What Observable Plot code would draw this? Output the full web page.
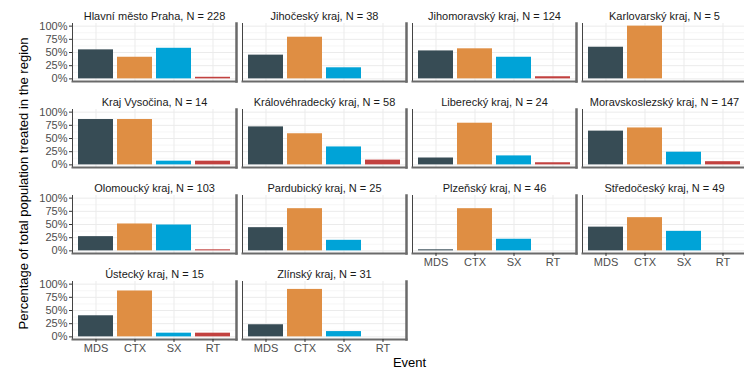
<!DOCTYPE html>
<html>
<head>
<meta charset="utf-8">
<script src="https://cdn.jsdelivr.net/npm/d3@7"></script>
<script src="https://cdn.jsdelivr.net/npm/@observablehq/plot@0.6"></script>
<style>
  body { margin: 0; background: #fff; }
  svg { display: block; }
</style>
</head>
<body>
<div id="chart"></div>
<script>
// Treated population share by region and event type
const regions = [
  "Hlavní město Praha", "Jihočeský kraj", "Jihomoravský kraj", "Karlovarský kraj",
  "Kraj Vysočina", "Královéhradecký kraj", "Liberecký kraj", "Moravskoslezský kraj",
  "Olomoucký kraj", "Pardubický kraj", "Plzeňský kraj", "Středočeský kraj",
  "Ústecký kraj", "Zlínský kraj"
];
const counts = [228, 38, 124, 5, 14, 58, 24, 147, 103, 25, 46, 49, 15, 31];
const events = ["MDS", "CTX", "SX", "RT"];
const eventColors = ["#374c55", "#df8e43", "#00a3d7", "#c2413f"];

const mds = [0.55, 0.45, 0.53, 0.60, 0.86, 0.72, 0.13, 0.64, 0.27, 0.44, 0.02, 0.45, 0.40, 0.23];
const ctx = [0.41, 0.79, 0.57, 1.00, 0.86, 0.59, 0.79, 0.70, 0.51, 0.80, 0.80, 0.63, 0.87, 0.90];
const sx  = [0.58, 0.21, 0.41, 0.00, 0.07, 0.34, 0.17, 0.24, 0.49, 0.20, 0.22, 0.37, 0.07, 0.10];
const rt  = [0.03, 0.00, 0.04, 0.00, 0.07, 0.09, 0.04, 0.06, 0.02, 0.00, 0.00, 0.00, 0.07, 0.00];

const yTicks = [0, 0.25, 0.5, 0.75, 1];
const yMinor = [0.125, 0.375, 0.625, 0.875];

// Long table: one row per region × event, laid out in a 4-column wrap
const series = [mds, ctx, sx, rt];
const rows = [];
regions.forEach((region, i) => {
  events.forEach((event, j) => {
    rows.push({region, col: i % 4, row: Math.floor(i / 4), event, value: series[j][i]});
  });
});
const titles = regions.map((region, i) => ({
  col: i % 4, row: Math.floor(i / 4), title: `${region}, N = ${counts[i]}`
}));

const chart = Plot.plot({
  width: 744,
  height: 376,
  marginLeft: 71,
  marginRight: 0,
  marginTop: 22,
  marginBottom: 37,
  style: {fontFamily: "'Liberation Sans', Arial, sans-serif", fontSize: "11px", background: "#fff"},
  fx: {domain: [0, 1, 2, 3], range: [71, 746], paddingInner: 0.038, paddingOuter: 0, axis: null, label: null},
  fy: {domain: [0, 1, 2, 3], paddingInner: 0.33, paddingOuter: 0, axis: null, label: null},
  x: {domain: events, paddingInner: 0.1, paddingOuter: 0.15, axis: null, label: null},
  y: {domain: [-0.05, 1.05], axis: null, label: null},
  color: {domain: events, range: eventColors},
  marks: [
    Plot.gridY({ticks: yMinor, stroke: "#f4f4f4", strokeOpacity: 1, strokeWidth: 0.8}),
    Plot.gridY({ticks: yTicks, stroke: "#ebebeb", strokeOpacity: 1}),
    Plot.gridX({stroke: "#ebebeb", strokeOpacity: 1}),
    Plot.barY(rows, {fx: "col", fy: "row", x: "event", y: "value", fill: "event"}),
    Plot.frame({anchor: "left", stroke: "#444", strokeWidth: 1}),
    Plot.frame({anchor: "right", stroke: "#6a6a6a", strokeWidth: 2.5}),
    Plot.frame({anchor: "bottom", stroke: "#6a6a6a", strokeWidth: 2}),
    Plot.axisY({
      ticks: yTicks, tickFormat: d3.format(".0%"), facetAnchor: "left",
      tickSize: 3, tickPadding: 2, color: "#4d4d4d", stroke: "#333", label: null, fontSize: 11
    }),
    Plot.axisX({
      facetAnchor: "bottom-empty", tickSize: 3, tickPadding: 2,
      color: "#4d4d4d", stroke: "#333", label: null, fontSize: 11
    }),
    Plot.text(titles, {
      fx: "col", fy: "row", text: "title", frameAnchor: "top",
      lineAnchor: "bottom", dy: -4, fontSize: 11, fill: "#1a1a1a"
    }),
    Plot.text(["Percentage of total population treated in the region"], {
      facet: "super", frameAnchor: "left", textAnchor: "middle", rotate: -90,
      dx: -49, dy: 2, fontSize: 13, fill: "#000"
    }),
    Plot.text(["Event"], {
      facet: "super", frameAnchor: "bottom", dy: 27, fontSize: 13, fill: "#000"
    })
  ]
});
document.getElementById("chart").append(chart);
</script>
</body>
</html>
